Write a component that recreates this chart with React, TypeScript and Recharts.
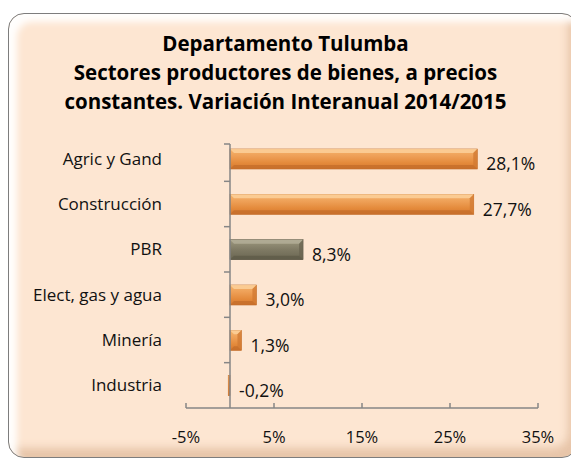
import React from "react";
import {
  BarChart,
  Bar,
  XAxis,
  YAxis,
  Cell,
  LabelList,
  ReferenceLine,
} from "recharts";

// data
const sectores = [
  "Agric y Gand",
  "Construcción",
  "PBR",
  "Elect, gas y agua",
  "Minería",
  "Industria",
];
const variacion = [28.1, 27.7, 8.3, 3.0, 1.3, -0.2];
const xTicks = [-5, 5, 15, 25, 35];
const tituloLineas = [
  "Departamento Tulumba",
  "Sectores productores de bienes, a precios",
  "constantes. Variación Interanual 2014/2015",
];

const data = sectores.map((name, i) => ({ name, value: variacion[i] }));

const FONT = "'Open Sans', Lato, sans-serif";
const AXIS = "#868686";

const fmt = (v: number) => v.toFixed(1).replace(".", ",") + "%";

// bevelled bar like the excel one
const BevelBar = (props: any) => {
  const { x, y, width, height, fill, payload } = props;
  const left = Math.min(x, x + width);
  const w = Math.abs(width);
  if (!w) return null;
  const gray = payload && payload.name === "PBR";
  const edge = gray ? "#5b5746" : "#c06a26";
  const b = Math.min(4, w / 2);
  return (
    <g>
      <rect x={left} y={y} width={w} height={height} fill={fill} stroke={edge} strokeWidth={0.6} />
      <polygon
        points={`${left},${y} ${left + w},${y} ${left + w - b},${y + b} ${left + b},${y + b}`}
        fill={gray ? "#b3ae98" : "#fbd09a"}
        opacity={0.85}
      />
      <polygon
        points={`${left + w},${y} ${left + w},${y + height} ${left + w - b},${y + height - b} ${left + w - b},${y + b}`}
        fill={gray ? "#6b6752" : "#d27a33"}
        opacity={0.8}
      />
      <polygon
        points={`${left},${y + height} ${left + w},${y + height} ${left + w - b},${y + height - b} ${left + b},${y + height - b}`}
        fill={gray ? "#5f5b49" : "#c56e2a"}
        opacity={0.8}
      />
    </g>
  );
};

const ValueLabel = (props: any) => {
  const { x, y, width, height, value } = props;
  const right = Math.max(x, x + width);
  return (
    <text
      x={right + 9}
      y={y + height / 2 + 5}
      dy="0.355em"
      fontSize={17.5}
      fontFamily={FONT}
      fill="#111"
    >
      {fmt(value)}
    </text>
  );
};

const XTick = (props: any) => {
  const { x, y, payload } = props;
  return (
    <g>
      <line x1={x} y1={y} x2={x} y2={y - 5} stroke={AXIS} strokeWidth={1.5} />
      <text x={x} y={y + 35} textAnchor="middle" fontSize={16.5} fontFamily={FONT} fill="#111">
        {payload.value}%
      </text>
    </g>
  );
};

// vertical axis at zero with ticks between categories
const ZeroAxis = (props: any) => {
  const top = Math.min(props.y1, props.y2);
  const bottom = Math.max(props.y1, props.y2);
  const band = (bottom - top) / sectores.length;
  const x = props.x1;
  return (
    <g>
      <line x1={x} y1={top + 8} x2={x} y2={bottom} stroke={AXIS} strokeWidth={1.5} />
      {sectores.map((s, i) => (
        <line
          key={s}
          x1={x - 6}
          x2={x}
          y1={i === 0 ? top + 8 : top + i * band}
          y2={i === 0 ? top + 8 : top + i * band}
          stroke={AXIS}
          strokeWidth={1.5}
        />
      ))}
    </g>
  );
};

export default function App() {
  return (
    <div
      style={{
        position: "absolute",
        left: 0,
        top: 0,
        width: 571,
        height: 463,
        overflow: "hidden",
        background: "#fff",
        fontFamily: FONT,
      }}
    >
      <div
        style={{
          position: "absolute",
          left: 8,
          top: 13,
          width: 570,
          height: 445,
          borderRadius: 16,
          border: "1px solid #7d7d7d",
          background: "#fde6d2",
          boxShadow:
            "inset 8px 8px 7px rgba(255,255,255,0.95), inset -9px -9px 8px rgba(214,170,135,0.55)",
          boxSizing: "border-box",
        }}
      />
      <div
        style={{
          position: "absolute",
          left: 0,
          top: 29,
          width: 571,
          textAlign: "center",
          fontWeight: 700,
          fontSize: 20.5,
          lineHeight: "29px",
          color: "#000",
        }}
      >
        {tituloLineas.map((t) => (
          <div key={t}>{t}</div>
        ))}
      </div>
      <div style={{ position: "absolute", left: 0, top: 0 }}>
        <BarChart
          width={571}
          height={463}
          data={data}
          layout="vertical"
          margin={{ top: 136, right: 33, left: 6, bottom: 25 }}
        >
          <defs>
            <linearGradient id="gradOrange" x1="0" y1="0" x2="0" y2="1">
              <stop offset="0%" stopColor="#f6b56e" />
              <stop offset="35%" stopColor="#eea057" />
              <stop offset="70%" stopColor="#e48a3b" />
              <stop offset="100%" stopColor="#d47830" />
            </linearGradient>
            <linearGradient id="gradGray" x1="0" y1="0" x2="0" y2="1">
              <stop offset="0%" stopColor="#9d987f" />
              <stop offset="50%" stopColor="#7f7a64" />
              <stop offset="100%" stopColor="#6a6652" />
            </linearGradient>
          </defs>
          <XAxis
            type="number"
            domain={[-5, 35]}
            ticks={xTicks}
            axisLine={{ stroke: AXIS, strokeWidth: 1.5 }}
            tickLine={false}
            tickSize={0}
            tickMargin={0}
            tick={<XTick />}
            height={30}
            interval={0}
          />
          <YAxis
            type="category"
            dataKey="name"
            width={180}
            axisLine={false}
            tickLine={false}
            tickSize={0}
            tickMargin={24}
            tick={{ fontSize: 17, fontFamily: FONT, fill: "#111" }}
            interval={0}
          />
          <Bar dataKey="value" barSize={20} shape={<BevelBar />} isAnimationActive={false}>
            {data.map((d) => (
              <Cell key={d.name} fill={d.name === "PBR" ? "url(#gradGray)" : "url(#gradOrange)"} />
            ))}
            <LabelList dataKey="value" content={<ValueLabel />} />
          </Bar>
          <ReferenceLine x={0} shape={<ZeroAxis />} />
        </BarChart>
      </div>
    </div>
  );
}
